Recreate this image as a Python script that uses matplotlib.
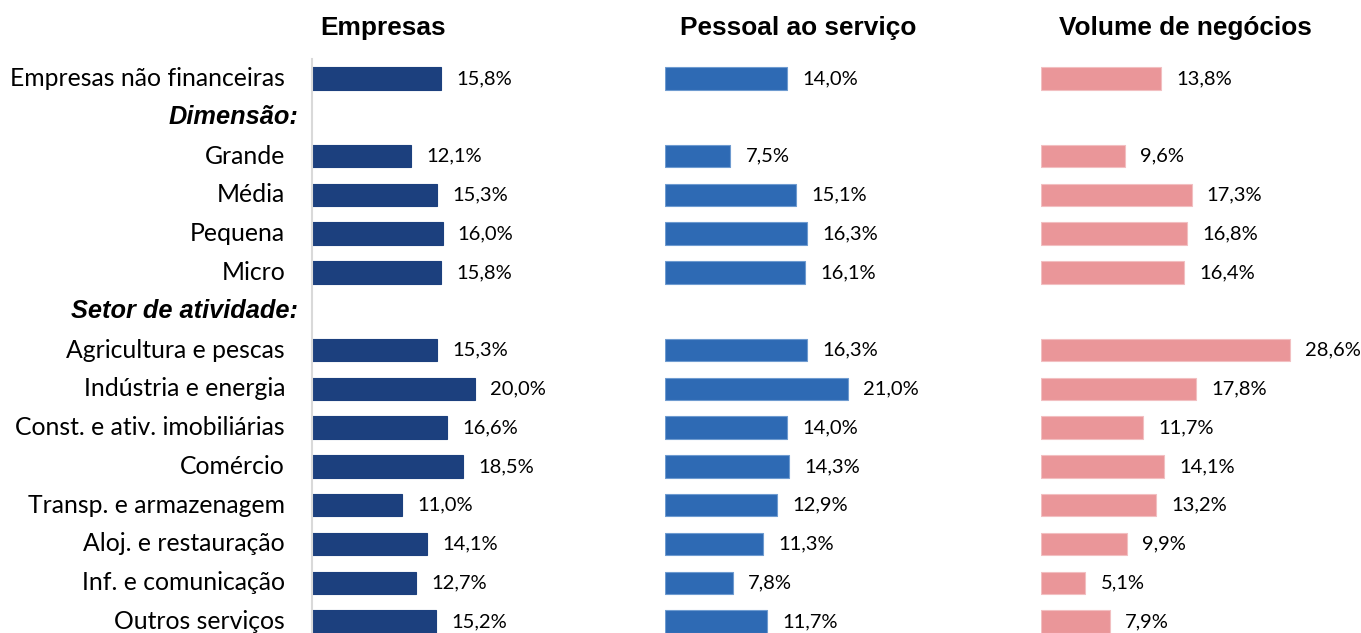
import matplotlib
matplotlib.use("Agg")
import matplotlib.pyplot as plt
import matplotlib.transforms as mtransforms

categories = ["Empresas não financeiras", "Dimensão:", "Grande", "Média", "Pequena", "Micro",
              "Setor de atividade:", "Agricultura e pescas", "Indústria e energia",
              "Const. e ativ. imobiliárias", "Comércio", "Transp. e armazenagem",
              "Aloj. e restauração", "Inf. e comunicação", "Outros serviços"]
headers = {"Dimensão:", "Setor de atividade:"}
titles = ["Empresas", "Pessoal ao serviço", "Volume de negócios"]
empresas = [15.8, None, 12.1, 15.3, 16.0, 15.8, None, 15.3, 20.0, 16.6, 18.5, 11.0, 14.1, 12.7, 15.2]
pessoal = [14.0, None, 7.5, 15.1, 16.3, 16.1, None, 16.3, 21.0, 14.0, 14.3, 12.9, 11.3, 7.8, 11.7]
volume = [13.8, None, 9.6, 17.3, 16.8, 16.4, None, 28.6, 17.8, 11.7, 14.1, 13.2, 9.9, 5.1, 7.9]
series = [empresas, pessoal, volume]
colors = ["#1C407E", "#2E6AB4", "#EA9699"]
edges = ["#1C407E", "#6E9BD0", "#F2BFC1"]

W, H = 1361, 633
fig = plt.figure(figsize=(W / 100, H / 100), dpi=100)

lefts = [312, 665, 1041]
scales = [8.16, 8.7, 8.7]
xmax = 30
row_top = 78.5
spacing = 38.79
ax_top = row_top - spacing / 2
ylim_bottom = -0.5 + (H - ax_top) / spacing
title_centers = [383, 798, 1185]

label_font = "Lato"
for k in range(3):
    width_px = xmax * scales[k]
    ax = fig.add_axes([lefts[k] / W, 0, width_px / W, (H - ax_top) / H])
    vals = series[k]
    ys = [i for i, v in enumerate(vals) if v is not None]
    vs = [v for v in vals if v is not None]
    ax.barh(ys, vs, height=0.58, color=colors[k], edgecolor=edges[k], linewidth=0.8)
    for y, v in zip(ys, vs):
        ax.annotate(f"{v:.1f}%".replace(".", ","), xy=(v, y), xytext=(11, 0),
                    textcoords="offset points", va="center", ha="left",
                    fontsize=14.5, family=label_font, color="#000000")
    ax.set_xlim(0, xmax)
    ax.set_ylim(ylim_bottom, -0.5)
    ax.set_xticks([])
    ax.set_yticks([])
    for s in ["top", "right", "bottom"]:
        ax.spines[s].set_visible(False)
    if k == 0:
        ax.spines["left"].set_color("#D9D9D9")
        ax.spines["left"].set_linewidth(1.5)
        trans = mtransforms.blended_transform_factory(fig.transFigure, ax.transData)
        for i, c in enumerate(categories):
            if c in headers:
                ax.text(298 / W, i, c, transform=trans, ha="right", va="center",
                        fontsize=18.3, fontweight="bold", fontstyle="italic",
                        family="Liberation Sans")
            else:
                ax.text(285 / W, i, c, transform=trans, ha="right", va="center",
                        fontsize=17.8, family=label_font)
    else:
        ax.spines["left"].set_visible(False)
    fig.text(title_centers[k] / W, 1 - 28.5 / H, titles[k], ha="center", va="center",
             fontsize=18.9, fontweight="bold", family="Liberation Sans")

fig.savefig("out.png", dpi=100)
